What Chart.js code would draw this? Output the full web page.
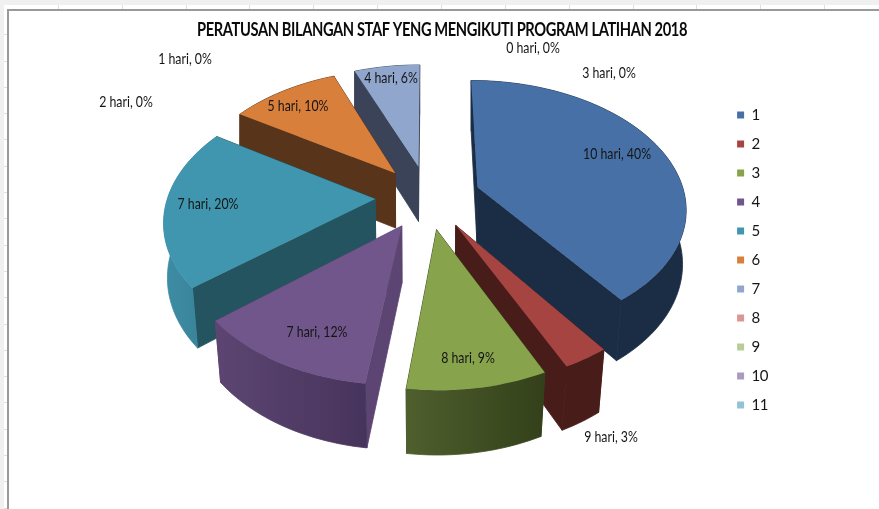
<!DOCTYPE html>
<html>
<head>
<meta charset="utf-8">
<script src="https://cdn.jsdelivr.net/npm/chart.js@4"></script>
<style>
  html, body { margin: 0; padding: 0; }
  body {
    width: 879px; height: 509px; overflow: hidden; position: relative;
    background: #ffffff;
  }
  /* spreadsheet strip round the chart */
  #top { position: absolute; left: 0; top: 0; width: 879px; height: 5px; background: #f0f0f0; }
  #ticksTop { position: absolute; left: 0; top: 5px; width: 879px; height: 4px;
    background: repeating-linear-gradient(90deg, #ffffff 0 62.86px, #dedede 62.86px 63.86px); background-position: -5px 0; }
  #left { position: absolute; left: 0; top: 0; width: 4px; height: 509px; background: #f0f0f0; }
  #ticksLeft { position: absolute; left: 4px; top: 9px; width: 3px; height: 500px;
    background: repeating-linear-gradient(180deg, #ffffff 0 25.3px, #dedede 25.3px 26.3px); }
  #frame { position: absolute; left: 7px; top: 9px; width: 872px; height: 500px;
    background: #ffffff; border-left: 2px solid #9a9a9a; border-top: 2px solid #9a9a9a; box-sizing: border-box; }
  canvas { position: absolute; left: 0; top: 0; }
</style>
</head>
<body>
<div id="top"></div><div id="ticksTop"></div><div id="left"></div><div id="ticksLeft"></div><div id="frame"></div>
<canvas id="chart" width="879" height="509"></canvas>
<script>
// data
const categories = ['1', '2', '3', '4', '5', '6', '7', '8', '9', '10', '11'];
const hariLabels = ['10 hari', '9 hari', '8 hari', '7 hari', '7 hari', '5 hari', '4 hari', '3 hari', '2 hari', '1 hari', '0 hari'];
const percentValues = [40, 3, 9, 12, 20, 10, 6, 0, 0, 0, 0];
const chartTitle = 'PERATUSAN BILANGAN STAF YENG MENGIKUTI PROGRAM LATIHAN 2018';

const topColors = ['#4670a6', '#a64441', '#87a34c', '#70568a', '#4096ae', '#d97f3c', '#90a6cc', '#d99694', '#b8cd96', '#a99bbd', '#92c3d4'];
const edgeColors = ['#1b2d45', '#471c19', '#33401a', '#5c4572', '#23545f', '#58341a', '#3a4357'];
// rim shading, left to right
const rimColors = [
  ['#1b2d45', '#1b2d45'], ['#471c19', '#471c19'], ['#4f5f2d', '#33401a'], ['#5c4572', '#47345c'],
  ['#3e8da5', '#367f95'], ['#58341a', '#58341a'], ['#3a4357', '#3a4357']
];
// where the data labels sit (they were moved by hand in the original)
const labelSpots = [[617, 154], [611, 437], [468, 358], [317, 332], [208, 204], [298, 106], [391, 78], [609, 73], [126, 102], [185, 59], [533, 48]];

const LABEL_FONT = '16px Lato';
const LABEL_SQUEEZE = 0.77; // the original text is narrower than Lato
const TITLE_SPAN = [197, 687];

// perspective of the pie plane
const view = { cx: 428, cy: 197, a: 207.5, b: 125.5, k: 0.15, explode: 0.254, depth: 56, vx: 420 };

function project(u, v) {
  const w = 1 + view.k * v;
  return { x: view.cx + view.a * u / w, y: view.cy - view.b * v / w, w: w };
}

function lower(p) {
  const shrink = Math.min(1, 0.988 - 0.11 * (1 - p.w));
  return { x: view.vx + (p.x - view.vx) * shrink, y: p.y + view.depth / Math.pow(p.w, 0.7) };
}

function fillPoly(ctx, pts, style, seal) {
  ctx.beginPath();
  pts.forEach((p, i) => { if (i) ctx.lineTo(p.x, p.y); else ctx.moveTo(p.x, p.y); });
  ctx.closePath();
  ctx.fillStyle = style;
  ctx.fill();
  if (seal) {
    // closes the hairline between neighbouring wall pieces
    ctx.strokeStyle = style;
    ctx.lineWidth = 0.8;
    ctx.stroke();
  }
}

const pie3d = {
  id: 'pie3d',
  afterLayout(chart) {
    // title draws with maxWidth = box width, so this squeezes it to the original span
    chart.titleBlock.left = TITLE_SPAN[0];
    chart.titleBlock.right = TITLE_SPAN[1];
  },
  beforeDraw(chart) {
    chart.ctx.letterSpacing = '-0.5px'; // legend digits
  },
  beforeDatasetDraw(chart, args) {
    const ctx = chart.ctx;
    const slices = [];
    chart.getDatasetMeta(args.index).data.forEach((arc, i) => {
      const p = arc.getProps(['startAngle', 'endAngle', 'circumference']);
      if (p.circumference <= 0) return;
      // chart.js angles start at 3 o'clock, u/v here is right/back
      const mid = (p.startAngle + p.endAngle) / 2;
      const ou = view.explode * Math.cos(mid);
      const ov = -view.explode * Math.sin(mid);
      const apex = project(ou, ov);
      const rim = [];
      const steps = Math.ceil(p.circumference / 0.03);
      for (let s = 0; s <= steps; s++) {
        const t = p.startAngle + p.circumference * s / steps;
        rim.push(project(ou + Math.cos(t), ov - Math.sin(t)));
      }
      slices.push({ i, apex, rim });
    });
    slices.sort((a, b) => a.apex.y - b.apex.y);

    slices.forEach(({ i, apex, rim }) => {
      const last = rim[rim.length - 1];
      fillPoly(ctx, [apex, rim[0], lower(rim[0]), lower(apex)], edgeColors[i], true);
      fillPoly(ctx, [apex, last, lower(last), lower(apex)], edgeColors[i], true);
      const xs = rim.map(p => p.x);
      const grad = ctx.createLinearGradient(Math.min(...xs), 0, Math.max(...xs), 0);
      grad.addColorStop(0, rimColors[i][0]);
      grad.addColorStop(1, rimColors[i][1]);
      fillPoly(ctx, rim.concat(rim.map(lower).reverse()), grad, true);
      fillPoly(ctx, [apex].concat(rim), topColors[i]);
    });
    return false; // the faces above replace the flat arcs
  },
  afterDatasetsDraw(chart) {
    const ctx = chart.ctx;
    ctx.save();
    ctx.letterSpacing = '0px';
    ctx.font = LABEL_FONT;
    ctx.fillStyle = '#151515';
    ctx.textAlign = 'center';
    ctx.textBaseline = 'middle';
    percentValues.forEach((v, i) => {
      const text = hariLabels[i] + ', ' + v + '%';
      ctx.fillText(text, labelSpots[i][0], labelSpots[i][1], ctx.measureText(text).width * LABEL_SQUEEZE);
    });
    ctx.restore();
  }
};

new Chart(document.getElementById('chart'), {
  type: 'pie',
  data: {
    labels: categories,
    datasets: [{ data: percentValues, backgroundColor: topColors, borderWidth: 0 }]
  },
  plugins: [pie3d],
  options: {
    responsive: false,
    animation: false,
    layout: { padding: { left: 5, top: 11, right: 100, bottom: 0 } },
    plugins: {
      tooltip: { enabled: false },
      title: {
        display: true,
        text: chartTitle,
        color: '#0a0a0a',
        font: { family: 'Lato', size: 18, weight: 'bold' },
        padding: { top: 8, bottom: 15 }
      },
      legend: {
        position: 'right',
        labels: {
          boxWidth: 7,
          boxHeight: 7,
          padding: 14,
          color: '#151515',
          font: { family: 'Lato', size: 15 }
        }
      }
    }
  }
});
</script>
</body>
</html>
